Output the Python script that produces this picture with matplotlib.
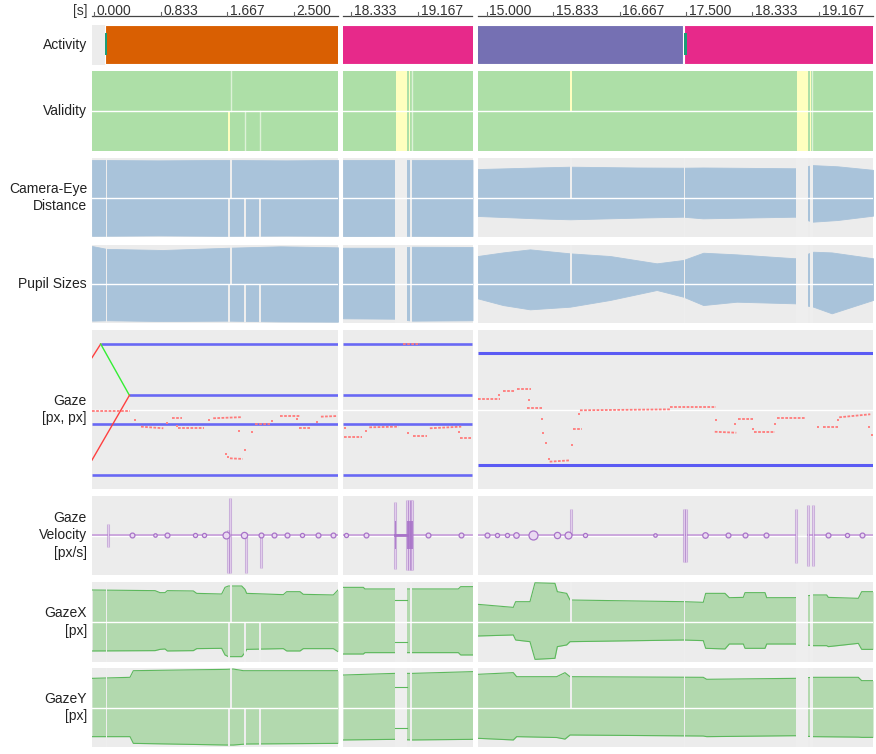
import numpy as np
import matplotlib
matplotlib.use('Agg')
import matplotlib.pyplot as plt
from matplotlib.patches import Rectangle

plt.rcParams['font.family'] = ['Liberation Sans', 'DejaVu Sans']

# ------------------------------------------------------------------ data
col_tmin = [-0.029, 18.230, 14.885]
col_tmax = [3.054, 19.840, 19.844]
ticks_c1 = [0.000, 0.833, 1.667, 2.500]
ticks_c2 = [18.333, 19.167]
ticks_c3 = [15.000, 15.833, 16.667, 17.500, 18.333, 19.167]

row_labels = ['Activity', 'Validity', 'Camera-Eye\nDistance', 'Pupil Sizes',
              'Gaze\n[px, px]', 'Gaze\nVelocity\n[px/s]', 'GazeX\n[px]', 'GazeY\n[px]']

# activity segments
act_start = [0.138, 14.000, 17.470, 0.138, 17.478]
act_end = [3.200, 17.458, 20.000, 0.163, 17.508]
act_kind = ['B', 'C', 'D', 'A', 'A']

# validity (top half = eye 1, bottom half = eye 2)
inval_top = [(16.050, 16.070), (18.885, 19.025), (19.048, 19.063)]
inval_bot = [(1.676, 1.695), (18.885, 19.025), (19.048, 19.063)]
val_mark_top = [1.710, 19.082]
val_mark_bot = [1.888, 2.076, 19.082]

# missing samples
gap_both = [(0.143, 0.160), (17.470, 17.488), (18.880, 19.025), (19.060, 19.092)]
gap_top = [(1.703, 1.720), (16.050, 16.066)]
gap_bot = [(1.672, 1.700), (1.882, 1.898), (2.068, 2.084)]

# camera-eye distance envelope (% of lane)
cam_t = [[-0.029, 0.800, 1.600, 2.400, 3.054],
         [18.230, 19.000, 19.840],
         [14.887, 15.627, 16.045, 16.880, 17.460, 17.710, 18.866, 19.090, 19.400, 19.844]]
cam_up = [[97.5, 97.0, 97.5, 97.0, 97.5],
          [97.5, 97.5, 97.5],
          [86.0, 88.0, 89.0, 88.0, 87.7, 88.0, 87.0, 91.0, 89.5, 85.0]]
cam_lo = [[1.5, 2.0, 1.5, 1.8, 1.5],
          [1.3, 1.5, 1.3],
          [26.6, 23.6, 22.4, 24.5, 25.7, 23.6, 25.7, 19.4, 21.5, 27.0]]

# pupil sizes envelope
pup_t = [[-0.029, 0.155, 0.860, 1.680, 2.330, 3.054],
         [18.230, 18.880, 19.090, 19.840],
         [14.887, 15.204, 15.543, 16.045, 16.546, 17.132, 17.466, 17.716, 18.135,
          18.866, 19.095, 19.326, 19.844]]
pup_up = [[98.7, 95.0, 93.6, 96.5, 98.3, 97.0],
          [96.5, 96.5, 97.8, 97.5],
          [85.9, 90.5, 94.4, 89.3, 85.9, 76.5, 80.8, 90.1, 88.0, 83.0, 91.4, 90.5, 83.0]]
pup_lo = [[3.0, 3.5, 2.5, 3.0, 2.0, 1.7],
          [6.0, 5.5, 3.0, 3.5],
          [31.6, 23.0, 17.5, 20.9, 29.5, 42.3, 33.7, 23.0, 27.3, 25.2, 20.9, 12.4, 29.5]]

# gaze: target lines
gaze_target_c12 = [91.2, 58.9, 41.1, 9.0]
gaze_target_c12_start = [0.080, 0.440, -0.029, -0.029]
gaze_target_c3 = [85.7, 14.9]
# gaze: initial saccade path (column 1)
jump_t = [-0.029, 0.080, 0.440, -0.029]
jump_v = [82.6, 91.2, 58.9, 18.2]
# gaze sample runs (t0, t1, v0, v1) and single samples (t, v)
gaze_runs = [
    [(-0.025, 0.447, 49.2, 49.2), (0.585, 0.865, 39.2, 38.2), (0.970, 1.095, 44.5, 44.5),
     (1.050, 1.375, 38.2, 38.2), (1.490, 1.850, 44.5, 45.2), (2.010, 2.200, 40.7, 40.7),
     (2.330, 2.580, 45.9, 45.9), (2.570, 2.710, 38.2, 38.2), (2.840, 3.040, 45.5, 45.9),
     (1.700, 1.860, 19.3, 18.9)],
    [(18.245, 18.460, 32.9, 32.9), (18.557, 18.920, 38.8, 39.2), (19.104, 19.270, 33.5, 33.5),
     (19.310, 19.700, 38.2, 39.2), (19.690, 19.840, 32.3, 32.3), (18.976, 19.187, 91.4, 91.4)],
    [(14.895, 15.167, 56.4, 56.4), (15.210, 15.355, 61.8, 61.8), (15.376, 15.550, 62.9, 62.9),
     (15.500, 15.690, 50.8, 50.8), (15.790, 16.040, 17.2, 18.0), (16.080, 16.190, 37.5, 37.5),
     (16.170, 17.300, 49.5, 50.1), (17.300, 17.880, 51.4, 51.4), (17.860, 18.130, 36.0, 35.4),
     (18.150, 18.340, 44.0, 44.0), (18.350, 18.615, 35.7, 35.7), (18.640, 18.990, 44.7, 44.7),
     (19.220, 19.410, 39.0, 39.0), (19.420, 19.810, 45.1, 47.0)]]
gaze_pts = [
    [(0.510, 43.2), (0.915, 41.7), (1.033, 39.6), (1.440, 43.2), (1.810, 36.7), (1.970, 35.8),
     (2.230, 43.0), (2.540, 43.8), (2.790, 42.1), (1.647, 22.0), (1.680, 20.3), (1.888, 24.5)],
    [(18.250, 38.2), (18.520, 36.7), (19.040, 35.0), (19.670, 35.7)],
    [(15.160, 59.1), (15.534, 55.8), (15.700, 43.8), (15.710, 35.4), (15.750, 29.1),
     (15.780, 18.7), (16.066, 27.7), (16.154, 47.0), (17.880, 43.4), (18.110, 41.1),
     (18.343, 37.7), (18.615, 40.9), (19.158, 39.0), (19.409, 43.4), (19.797, 38.8),
     (19.828, 34.0)]]

# gaze velocity
vel_base = 51.0
vel_base_seg = [[(-0.029, 3.054)], [(18.230, 19.840)], [(14.885, 18.880), (19.030, 19.844)]]
vel_spikes = [
    [(0.168, 64.0, 36.0), (1.700, 98.0, 2.0), (1.672, 57.0, 2.0), (1.897, 53.5, 3.0), (2.089, 52.8, 8.5)],
    [(18.877, 92.8, 7.2), (19.030, 95.0, 6.3), (19.050, 95.0, 6.3), (19.070, 95.0, 6.3), (19.090, 95.0, 6.3)],
    [(16.057, 83.0, 51.0), (17.470, 83.0, 17.0), (17.500, 83.0, 17.0), (18.880, 84.0, 15.6),
     (19.030, 88.6, 11.4), (19.095, 88.6, 11.4)]]
vel_bands_c2 = [(18.877, 18.877, 68.7, 32.5), (19.030, 19.090, 68.7, 32.5)]
vel_bubbles = [
    [0.469, 0.760, 0.915, 1.262, 1.375, 1.646, 1.880, 2.089, 2.255, 2.411, 2.599, 2.806, 2.995],
    [18.263, 18.516, 19.283, 19.696],
    [15.008, 15.133, 15.250, 15.367, 15.576, 15.885, 16.015, 16.232, 17.110, 17.737, 18.020,
     18.237, 18.500, 19.283, 19.514, 19.702]]
vel_bubble_size = [
    [3.5, 2.5, 3.5, 3, 3, 5, 4.5, 3.5, 3.5, 3.5, 3, 3.5, 3.5],
    [3, 3.5, 3.5, 3.5],
    [3.5, 3, 3, 4, 6.5, 4.5, 5, 3, 2.5, 4, 3.5, 3.5, 3.5, 3.5, 3, 3.5]]

# GazeX envelope
gx_t = [[-0.025, 0.761, 0.823, 0.886, 0.915, 1.241, 1.283, 1.596, 1.638, 1.680, 1.847, 1.888,
         1.909, 2.369, 2.411, 2.578, 2.619, 2.995, 3.054],
        [18.230, 18.483, 18.503, 18.877, 19.092, 19.664, 19.693, 19.840],
        [14.887, 15.334, 15.363, 15.543, 15.606, 15.856, 15.886, 16.003, 16.045, 17.466, 17.716,
         17.746, 17.988, 18.042, 18.218, 18.239, 18.490, 18.511, 18.866, 19.096, 19.263, 19.284,
         19.660, 19.702, 19.844]]
gx_up = [[90.0, 89.2, 86.7, 86.7, 89.2, 88.8, 85.8, 85.0, 93.3, 95.0, 95.0, 90.8, 85.8, 84.2,
          87.9, 87.9, 84.6, 83.8, 90.0],
         [93.3, 93.3, 91.3, 91.3, 91.3, 91.3, 94.2, 94.2],
         [72.1, 68.3, 75.4, 75.4, 99.0, 98.3, 87.9, 85.8, 77.5, 75.4, 74.6, 85.8, 85.8, 80.4, 80.8,
          86.7, 86.7, 80.4, 80.4, 83.8, 83.8, 80.8, 79.6, 87.9, 87.9]]
gx_lo = [[13.8, 14.2, 15.8, 16.3, 13.8, 14.2, 16.7, 17.1, 8.8, 6.7, 6.7, 11.7, 15.8, 16.7,
          13.8, 13.8, 16.7, 16.7, 12.9],
         [10.0, 10.0, 11.7, 11.7, 11.7, 11.7, 8.8, 8.8],
         [32.5, 33.8, 27.5, 25.4, 3.3, 4.6, 19.2, 21.3, 25.4, 27.5, 26.7, 17.1, 16.3, 22.5, 22.5,
          17.1, 17.1, 22.5, 22.5, 20.4, 20.4, 19.2, 23.3, 15.8, 15.8]]
gx_bridge_c2 = (18.877, 19.028, 77.5, 25.4)

# GazeY envelope
gy_t = [[-0.029, 0.447, 0.489, 1.659, 1.742, 1.868, 1.909, 3.054],
        [18.230, 18.877, 19.092, 19.840],
        [14.887, 15.334, 15.376, 15.877, 15.982, 16.045, 17.716, 17.758, 18.866, 19.096, 19.660,
         19.702, 19.844]]
gy_up = [[86.9, 88.2, 96.6, 98.3, 98.7, 96.6, 96.6, 96.6],
         [91.1, 93.2, 93.2, 95.4],
         [92.0, 94.1, 89.0, 89.0, 94.1, 89.0, 88.2, 85.7, 86.9, 88.2, 88.2, 84.0, 84.0]]
gy_lo = [[13.1, 13.1, 4.6, 2.5, 2.5, 3.5, 3.8, 4.6],
         [8.9, 9.7, 8.9, 9.7],
         [11.0, 8.9, 13.1, 12.0, 10.0, 15.2, 13.9, 13.1, 14.3, 13.1, 12.5, 12.2, 12.2]]
gy_bridge_c2 = (18.877, 19.028, 76.4, 23.6)

# ------------------------------------------------------------------ style / layout
W, H = 876, 754
BG = '#ececec'
GAPC = '#eeeeee'
act_colors = {'A': '#1b9e77', 'B': '#d95f02', 'C': '#7570b3', 'D': '#e7298a'}
VALID = '#addfa7'
INVALID = '#ffffbf'
BLUEFILL = '#a9c3da'
GREENFILL = '#b2d9ae'
GREENEDGE = '#5cb85c'
VEL = '#c9a2dc'
VELD = '#a873c8'

col_px = [(92, 338), (343, 472.5), (477.5, 873)]
row_px = [(25, 64.5), (71, 151), (158, 237), (245, 323), (330, 489), (496, 575), (582, 662), (668, 747)]
ticks_all = [ticks_c1, ticks_c2, ticks_c3]

fig = plt.figure(figsize=(W / 100, H / 100), dpi=100)


def add_ax(x0, x1, y0, y1):
    return fig.add_axes([x0 / W, 1 - y1 / H, (x1 - x0) / W, (y1 - y0) / H])


def lane(ci, ri):
    x0, x1 = col_px[ci]
    y0, y1 = row_px[ri]
    ax = add_ax(x0, x1, y0, y1)
    ax.set_xlim(col_tmin[ci], col_tmax[ci])
    ax.set_ylim(0, 100)
    ax.set_facecolor(BG)
    for s in ax.spines.values():
        s.set_visible(False)
    ax.set_xticks([])
    ax.set_yticks([])
    return ax


def midline(ax, z=6):
    ax.axhline(50, color='white', lw=1.0, zorder=z)


def draw_gaps(ax, color=GAPC, z=3):
    for a, b in gap_both:
        ax.axvspan(a, b, 0, 1, color=color, lw=0, zorder=z)
    for a, b in gap_top:
        ax.axvspan(a, b, 0.5, 1, color=color, lw=0, zorder=z)
    for a, b in gap_bot:
        ax.axvspan(a, b, 0, 0.5, color=color, lw=0, zorder=z)


# row labels and header
fig.text(88 / W, 1 - 14.5 / H, '[s]', ha='right', va='baseline', fontsize=10, color='#333333')
for ri, lab in enumerate(row_labels):
    y0, y1 = row_px[ri]
    fig.text(87 / W, 1 - (y0 + y1) / 2 / H, lab, ha='right', va='center',
             fontsize=10, color='#222222', linespacing=1.3, multialignment='right')

for ci in range(3):
    x0, x1 = col_px[ci]
    hax = add_ax(x0, x1, 0, 20)
    hax.set_xlim(col_tmin[ci], col_tmax[ci])
    hax.set_ylim(20, 0)
    hax.axis('off')
    hax.plot([col_tmin[ci], col_tmax[ci]], [16, 16], color='#444444', lw=0.9, clip_on=False)
    for t in ticks_all[ci]:
        hax.plot([t, t], [12, 16], color='#666666', lw=0.8)
        hax.annotate(f'{t:.3f}', (t, 14.6), xytext=(1.8, 0), textcoords='offset points',
                     ha='left', va='baseline', fontsize=10, color='#333333')

for ci in range(3):
    # ---- Activity
    ax = lane(ci, 0)
    for s, e, k in zip(act_start, act_end, act_kind):
        c = act_colors[k]
        if k == 'A':
            ax.add_patch(Rectangle((s, 25), e - s, 55, facecolor=c, edgecolor='none', zorder=3))
        else:
            ax.add_patch(Rectangle((s, 1), e - s, 98, facecolor=c, edgecolor='white',
                                   lw=0.8, alpha=1, zorder=2))
    # ---- Validity
    ax = lane(ci, 1)
    ax.axhspan(0, 100, color=VALID, lw=0, zorder=1)
    for a, b in inval_top:
        ax.axvspan(a, b, 0.5, 1, color=INVALID, lw=0, zorder=3)
    for a, b in inval_bot:
        ax.axvspan(a, b, 0, 0.5, color=INVALID, lw=0, zorder=3)
    for t in val_mark_top:
        ax.axvline(t, 0.5, 1, color='#ddf2d8', lw=1.0, zorder=2)
    for t in val_mark_bot:
        ax.axvline(t, 0, 0.5, color='#ddf2d8', lw=1.0, zorder=2)
    midline(ax)
    # ---- Camera-eye distance
    ax = lane(ci, 2)
    ax.fill_between(cam_t[ci], cam_lo[ci], cam_up[ci], color=BLUEFILL, lw=0.6, zorder=2)
    draw_gaps(ax)
    midline(ax)
    # ---- Pupil sizes
    ax = lane(ci, 3)
    ax.fill_between(pup_t[ci], pup_lo[ci], pup_up[ci], color=BLUEFILL, lw=0.6, zorder=2)
    draw_gaps(ax)
    midline(ax)
    # ---- Gaze
    ax = lane(ci, 4)
    midline(ax, z=1)
    if ci < 2:
        for v, s in zip(gaze_target_c12, gaze_target_c12_start):
            ax.plot([max(s, col_tmin[ci]), col_tmax[ci]], [v, v], color='#5a5af5', lw=1.9,
                    alpha=0.9, zorder=3, solid_capstyle='butt')
    else:
        for v in gaze_target_c3:
            ax.plot([col_tmin[ci], col_tmax[ci]], [v, v], color='#4a4af5', lw=2.2,
                    alpha=0.9, zorder=3, solid_capstyle='butt')
    if ci == 0:
        seg_col = ['#ff4040', '#33ee33', '#ff4040']
        for k in range(3):
            ax.plot(jump_t[k:k + 2], jump_v[k:k + 2], color=seg_col[k], lw=1.0, zorder=4)
    for t0, t1, v0, v1 in gaze_runs[ci]:
        ax.plot([t0, t1], [v0, v1], color='#ff7a7a', lw=1.3, ls=(0, (1.5, 0.8)), zorder=5)
    pts = np.array(gaze_pts[ci])
    ax.plot(pts[:, 0], pts[:, 1], 's', color='#ff8585', ms=1.6, mew=0, zorder=5)
    # ---- Gaze velocity
    ax = lane(ci, 5)
    midline(ax, z=1)
    for a, b in vel_base_seg[ci]:
        ax.plot([a, b], [vel_base, vel_base], color=VEL, lw=1.3, zorder=3)
    for t, vt, vb in vel_spikes[ci]:
        ax.plot([t, t], [vb, vt], color=VELD, lw=2.2, alpha=0.5, zorder=4, solid_capstyle='butt')
        ax.plot([t, t], [vb, vt], color='#e2cdec', lw=0.8, zorder=4, solid_capstyle='butt')
    if ci == 1:
        ax.plot([vel_bands_c2[0][0], vel_bands_c2[1][0]], [vel_base, vel_base], color=VELD,
                lw=2.0, zorder=4)
        for a, b, vt, vb in vel_bands_c2:
            ax.add_patch(Rectangle((a - 0.006, vb), b - a + 0.012, vt - vb, facecolor=VELD,
                                   edgecolor='none', alpha=0.85, zorder=5))
    for t, ms in zip(vel_bubbles[ci], vel_bubble_size[ci]):
        ax.plot([t], [vel_base], 'o', ms=ms, mfc='#ead9f2', mec=VELD, mew=0.9, zorder=5)
    # ---- GazeX / GazeY
    for ri, (tt, up, lo, br) in zip((6, 7), ((gx_t, gx_up, gx_lo, gx_bridge_c2),
                                             (gy_t, gy_up, gy_lo, gy_bridge_c2))):
        ax = lane(ci, ri)
        ax.fill_between(tt[ci], lo[ci], up[ci], color=GREENFILL, lw=0, zorder=2)
        ax.plot(tt[ci], up[ci], color=GREENEDGE, lw=0.8, zorder=2.5)
        ax.plot(tt[ci], lo[ci], color=GREENEDGE, lw=0.8, zorder=2.5)
        draw_gaps(ax)
        if ci == 1:
            a, b, vu, vl = br
            ax.plot([a, b], [vu, vu], color=GREENEDGE, lw=0.8, zorder=4)
            ax.plot([a, b], [vl, vl], color=GREENEDGE, lw=0.8, zorder=4)
        midline(ax)

fig.savefig('out.png', dpi=100, facecolor='white')
